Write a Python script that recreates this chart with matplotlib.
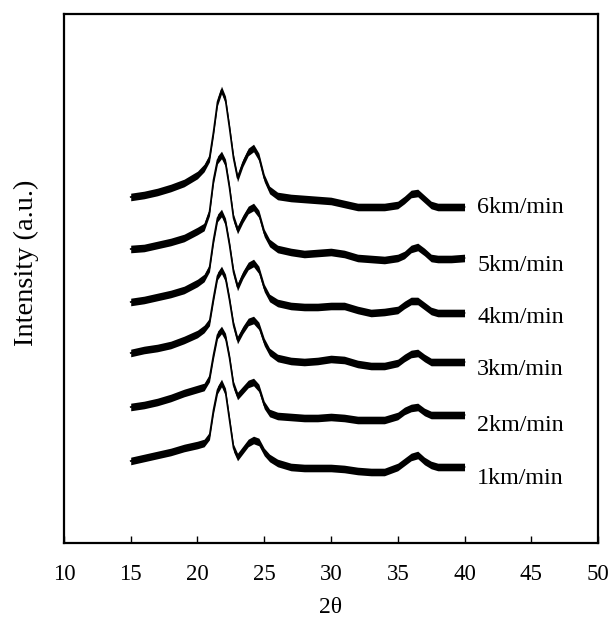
import matplotlib
matplotlib.use('Agg')
import matplotlib.pyplot as plt
import numpy as np

two_theta = [15, 16, 17, 18, 19, 20, 20.5, 20.9, 21.2, 21.5, 21.8, 22.1, 22.4, 22.7,
             23.0, 23.4, 23.8, 24.2, 24.6, 25.0, 25.4, 26, 27, 28, 29, 30, 31, 32,
             33, 34, 35, 35.5, 36, 36.5, 37, 37.5, 38, 39, 40]

# stacked intensities (a.u., offsets already included)
int_6 = [346, 348, 351, 355, 360, 368, 375, 385, 411, 441, 453, 443, 415, 385, 365, 380, 391, 395, 386, 365,
         353, 347, 345, 344, 343, 342, 339, 336, 336, 336, 338, 343, 349, 350, 344, 338, 336, 336, 336]
int_5 = [294, 295, 298, 301, 305, 312, 316, 331, 363, 383, 388, 380, 355, 325, 313, 324, 333, 336, 329, 310,
         300, 294, 291, 289, 290, 291, 289, 285, 284, 283, 285, 288, 294, 296, 291, 285, 284, 284, 285]
int_4 = [241, 243, 246, 249, 253, 260, 265, 275, 303, 325, 330, 321, 298, 271, 256, 268, 277, 280, 273, 255,
         245, 240, 237, 236, 236, 237, 237, 233, 230, 231, 233, 238, 242, 242, 237, 232, 230, 230, 230]
int_3 = [190, 193, 195, 198, 203, 209, 214, 221, 245, 267, 273, 265, 243, 218, 203, 213, 221, 223, 217, 201,
         191, 185, 182, 181, 182, 184, 183, 179, 177, 177, 180, 185, 189, 190, 185, 181, 181, 181, 181]
int_2 = [136, 138, 141, 145, 150, 154, 156, 165, 188, 208, 213, 206, 185, 158, 147, 153, 159, 161, 155, 138,
         130, 127, 126, 125, 125, 126, 125, 123, 123, 123, 127, 132, 135, 136, 131, 128, 128, 128, 128]
int_1 = [82, 85, 88, 91, 95, 98, 100, 107, 133, 153, 160, 151, 123, 95, 86, 93, 100, 103, 101, 91,
         85, 80, 76, 75, 75, 75, 74, 72, 71, 71, 76, 81, 86, 88, 82, 78, 76, 76, 76]

labels = ['6km/min', '5km/min', '4km/min', '3km/min', '2km/min', '1km/min']
label_y = [335, 277, 225, 173, 117, 64]

plt.rcParams['font.family'] = ['Liberation Serif', 'DejaVu Serif']

fig = plt.figure(figsize=(6.09, 6.19), dpi=100)
ax = fig.add_axes([0.105, 0.1228, 0.877, 0.8546])

x = np.array(two_theta)
band = 3.8  # half width of the noisy trace
for ys in [int_6, int_5, int_4, int_3, int_2, int_1]:
    y = np.array(ys, dtype=float)
    ax.fill_between(x, y - band, y + band, color='black', linewidth=0)
    ax.plot(x, y, color='black', lw=1.2)

for lab, ly in zip(labels, label_y):
    ax.text(40.95, ly, lab, fontsize=17.3, va='center', ha='left')

ax.set_xlim(10, 50)
ax.set_ylim(0, 529)
ax.set_xticks(range(10, 51, 5))
ax.set_yticks([])
ax.tick_params(axis='x', direction='in', length=5, width=1, labelsize=16.5, pad=15)
for s in ax.spines.values():
    s.set_linewidth(1.6)

ax.set_xlabel('2θ', fontsize=17, labelpad=9)
ax.set_ylabel('Intensity (a.u.)', fontsize=20.5)
ax.yaxis.set_label_coords(-0.047, 0.53)

fig.savefig('out.png', dpi=100)
